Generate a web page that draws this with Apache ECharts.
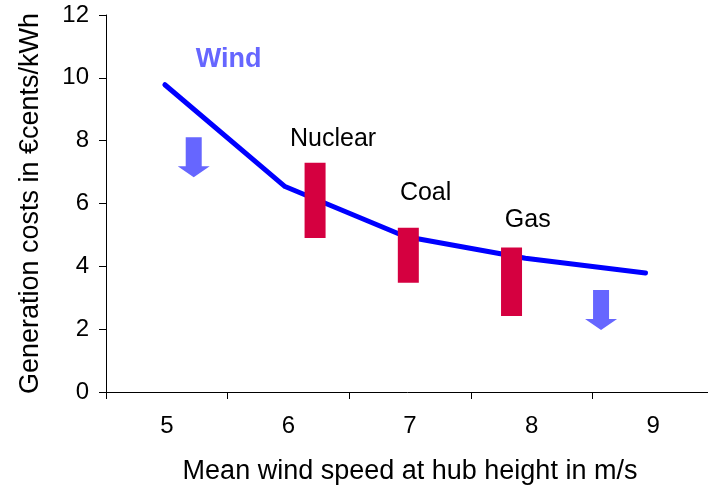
<!DOCTYPE html>
<html>
<head>
<meta charset="utf-8">
<script src="https://cdn.jsdelivr.net/npm/echarts@6/dist/echarts.min.js"></script>
<style>
  html, body { margin: 0; padding: 0; background: #fff; }
  #chart { width: 708px; height: 493px; }
</style>
</head>
<body>
<div id="chart"></div>
<script>
// Wind speed categories shown on the axis
const speedLabels = ['5', '6', '7', '8', '9'];

// Wind generation cost curve: [mean wind speed m/s, cost in €cents/kWh]
const windSpeeds = [5, 6, 7, 8, 9];
const windCosts = [9.78, 6.54, 4.95, 4.26, 3.79];

// Conventional generation cost ranges: name, x position, low, high
const plantNames = ['Nuclear', 'Coal', 'Gas'];
const plantX = [6.25, 7.026, 7.885];
const plantLow = [4.9, 3.48, 2.42];
const plantHigh = [7.3, 5.23, 4.6];

// Text label anchors for the plant names and the wind caption
const plantLabelX = [6.40, 7.17, 8.02];
const plantLabelY = [8.06, 6.32, 5.46];
const windLabelPos = [5.53, 10.57];

// Downward trend arrows
const arrowX = [5.24, 8.63];
const arrowY = [7.47, 2.61];

// Y axis ticks
const yMin = 0, yMax = 12, yStep = 2;

const FONT = 'Liberation Sans, Arial, sans-serif';
const chart = echarts.init(document.getElementById('chart'));

const arrowPath = 'path://M8,0L24,0L24,29L32,29L16,40L0,29L8,29Z';

chart.setOption({
  animation: false,
  grid: { left: 106, top: 15, width: 608, bottom: 101, outerBoundsMode: 'none', containLabel: false },
  xAxis: [
    {
      type: 'category',
      data: speedLabels,
      boundaryGap: true,
      name: 'Mean wind speed at hub height in m/s',
      nameLocation: 'middle',
      nameGap: 66,
      nameTextStyle: { fontFamily: FONT, fontSize: 27, color: '#000' },
      axisLine: { lineStyle: { color: '#000', width: 1 } },
      axisTick: { show: true, length: 7, inside: false, lineStyle: { color: '#000' } },
      axisLabel: { fontFamily: FONT, fontSize: 24, color: '#000', margin: 22 },
      splitLine: { show: false }
    },
    {
      type: 'value',
      min: 4.51,
      max: 9.57,
      show: false
    }
  ],
  yAxis: {
    type: 'value',
    min: yMin,
    max: yMax,
    interval: yStep,
    name: 'Generation costs in €cents/kWh',
    nameLocation: 'middle',
    nameGap: 62,
    nameTextStyle: { fontFamily: FONT, fontSize: 27, color: '#000' },
    axisLine: { show: true, lineStyle: { color: '#000', width: 1 } },
    axisTick: { show: true, length: 7, lineStyle: { color: '#000' } },
    axisLabel: { fontFamily: FONT, fontSize: 24, color: '#000', margin: 17 },
    splitLine: { show: false }
  },
  series: [
    {
      name: 'Wind',
      type: 'line',
      xAxisIndex: 1,
      data: windSpeeds.map((s, i) => [s, windCosts[i]]),
      showSymbol: false,
      silent: true,
      z: 2,
      lineStyle: { color: '#0000FF', width: 5, cap: 'round', join: 'round' }
    },
    {
      name: 'Plants',
      type: 'custom',
      xAxisIndex: 1,
      z: 3,
      silent: true,
      data: plantX.map((x, i) => [x, plantLow[i], plantHigh[i]]),
      renderItem: function (params, api) {
        const top = api.coord([api.value(0), api.value(2)]);
        const bottom = api.coord([api.value(0), api.value(1)]);
        const w = 21;
        return {
          type: 'rect',
          shape: { x: top[0] - w / 2, y: top[1], width: w, height: bottom[1] - top[1] },
          style: { fill: '#D50040' }
        };
      }
    },
    {
      name: 'Plant labels',
      type: 'scatter',
      xAxisIndex: 1,
      silent: true,
      symbolSize: 0,
      itemStyle: { opacity: 1 },
      data: plantNames.map((n, i) => ({ value: [plantLabelX[i], plantLabelY[i]], name: n })),
      label: {
        show: true,
        position: 'inside',
        formatter: '{b}',
        fontFamily: FONT,
        fontSize: 25,
        color: '#000'
      }
    },
    {
      name: 'Wind label',
      type: 'scatter',
      xAxisIndex: 1,
      silent: true,
      symbolSize: 0,
      itemStyle: { opacity: 1 },
      data: [{ value: windLabelPos, name: 'Wind' }],
      label: {
        show: true,
        position: 'inside',
        formatter: '{b}',
        fontFamily: FONT,
        fontSize: 27,
        fontWeight: 'bold',
        color: '#6666FF'
      }
    },
    {
      name: 'Trend arrows',
      type: 'scatter',
      xAxisIndex: 1,
      silent: true,
      symbol: arrowPath,
      symbolSize: [32, 40],
      itemStyle: { color: '#6666FF', opacity: 1 },
      data: arrowX.map((x, i) => [x, arrowY[i]])
    }
  ]
});
</script>
</body>
</html>
